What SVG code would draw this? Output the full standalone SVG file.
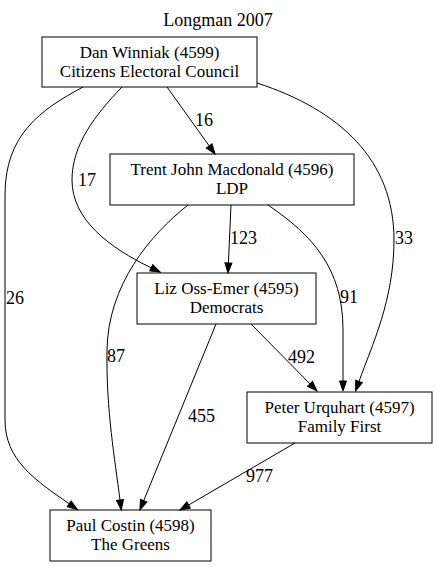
<svg xmlns="http://www.w3.org/2000/svg" width="437" height="567" viewBox="0 0 437 567" font-family="'Liberation Serif', 'Times New Roman', 'DejaVu Serif', serif" font-size="18">
<style>
text{font-family:'Liberation Serif','Times New Roman','DejaVu Serif',serif;font-size:18px;fill:#000}
.n text{text-anchor:middle;font-size:17px}
.n rect{fill:none;stroke:#000;stroke-width:1}
.e path{fill:none;stroke:#000;stroke-width:1;marker-end:url(#ah)}
</style>
<defs>
<marker id="ah" markerUnits="userSpaceOnUse" markerWidth="10" markerHeight="8" viewBox="0 -4 10 8" refX="0" refY="0" orient="auto" overflow="visible">
<path d="M0,-3.5 L10,0 L0,3.5 Z" fill="#000" stroke="#000" stroke-width="1"/>
</marker>
</defs>
<rect x="0" y="0" width="437" height="567" fill="#fff"/>
<text x="218" y="26" text-anchor="middle">Longman 2007</text>
<g id="edges" class="e">
<path d="M167,87 L209.2,145.9"/>
<path d="M122,87 C95,115 72,145 72,180 C72,220 110,248 151.2,267.8"/>
<path d="M83,87 C40,110 5,135 5,195 L5,420 C5,460 35,480 69.2,503.8"/>
<path d="M257,83 C340,110 394,160 394,240 C394,300 372,345 359,381.5"/>
<path d="M231,205 L228.4,263"/>
<path d="M188,205 C150,235 108,285 107,350 C106,410 115,460 120,500"/>
<path d="M268,205 C312,235 343,268 343,330 L343,381"/>
<path d="M216,324 L143.7,500.7"/>
<path d="M251,324 L310,383.9"/>
<path d="M295,443 L188.6,505"/>
</g>
<g id="edge-labels">
<text x="195" y="126">16</text>
<text x="78" y="186">17</text>
<text x="6" y="304">26</text>
<text x="395" y="244">33</text>
<text x="230" y="244">123</text>
<text x="107" y="362">87</text>
<text x="340" y="303">91</text>
<text x="188" y="422">455</text>
<text x="288" y="363">492</text>
<text x="246" y="482">977</text>
</g>
<g id="n4599" class="n">
<rect x="42" y="37" width="215" height="50"/>
<text x="149.5" y="57.5">Dan Winniak (4599)</text>
<text x="149.5" y="76.5">Citizens Electoral Council</text>
</g>
<g id="n4596" class="n">
<rect x="110" y="154" width="244" height="51"/>
<text x="232" y="175">Trent John Macdonald (4596)</text>
<text x="232" y="194">LDP</text>
</g>
<g id="n4595" class="n">
<rect x="137" y="273" width="179" height="51"/>
<text x="226.5" y="294">Liz Oss-Emer (4595)</text>
<text x="226.5" y="313">Democrats</text>
</g>
<g id="n4597" class="n">
<rect x="247" y="392" width="185" height="51"/>
<text x="339.5" y="413">Peter Urquhart (4597)</text>
<text x="339.5" y="432">Family First</text>
</g>
<g id="n4598" class="n">
<rect x="50" y="510" width="161" height="51"/>
<text x="130.5" y="531">Paul Costin (4598)</text>
<text x="130.5" y="550">The Greens</text>
</g>
</svg>
